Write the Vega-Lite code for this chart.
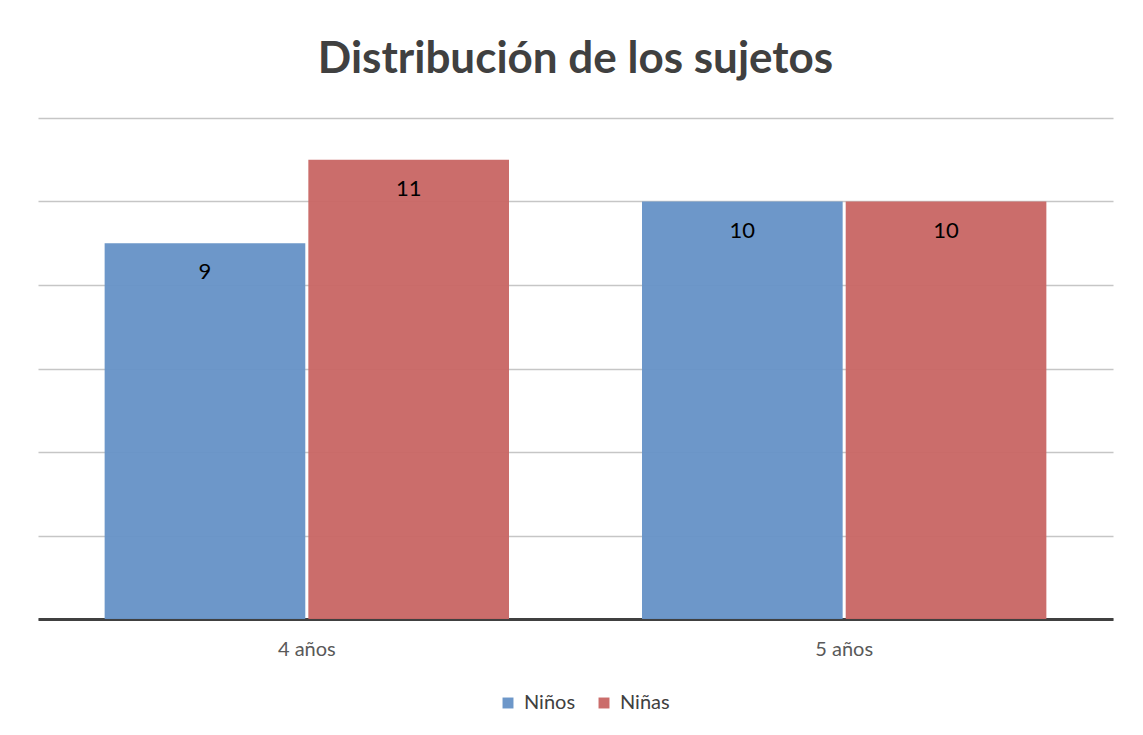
{
  "$schema": "https://vega.github.io/schema/vega-lite/v6.json",
  "autosize": {"type": "none"},
  "width": 1075,
  "height": 501,
  "padding": {"left": 38, "top": 118, "right": 30, "bottom": 116},
  "background": "white",
  "config": {
    "view": {"stroke": null},
    "font": "Lato"
  },
  "title": {
    "text": "Distribución de los sujetos",
    "fontSize": 44,
    "fontWeight": "bold",
    "color": "#404040",
    "font": "Lato",
    "anchor": "middle",
    "offset": 36
  },
  "data": {
    "values": [
      {"edad": "4 años", "sexo": "Niños", "n": 9},
      {"edad": "4 años", "sexo": "Niñas", "n": 11},
      {"edad": "5 años", "sexo": "Niños", "n": 10},
      {"edad": "5 años", "sexo": "Niñas", "n": 10}
    ]
  },
  "encoding": {
    "x": {
      "field": "edad",
      "type": "nominal",
      "scale": {"paddingInner": 0.2475, "paddingOuter": 0.124},
      "axis": {
        "title": null,
        "labelAngle": 0,
        "labelFontSize": 20,
        "labelColor": "#595959",
        "labelPadding": 20,
        "ticks": false,
        "domainColor": "#404040",
        "domainWidth": 3,
        "grid": false
      }
    },
    "xOffset": {
      "field": "sexo",
      "type": "nominal",
      "sort": ["Niños", "Niñas"],
      "scale": {"paddingInner": 0.015}
    },
    "y": {
      "field": "n",
      "type": "quantitative",
      "scale": {"domain": [0, 12]},
      "axis": {
        "title": null,
        "labels": false,
        "ticks": false,
        "domain": false,
        "values": [0, 2, 4, 6, 8, 10, 12],
        "gridColor": "#c6c6c6",
        "gridWidth": 1.5
      }
    }
  },
  "layer": [
    {
      "mark": {"type": "bar", "opacity": 0.97},
      "encoding": {
        "color": {
          "field": "sexo",
          "type": "nominal",
          "sort": ["Niños", "Niñas"],
          "scale": {"domain": ["Niños", "Niñas"], "range": ["#6894C7", "#C96866"]},
          "legend": {
            "title": null,
            "orient": "none",
            "direction": "horizontal",
            "legendX": 460,
            "legendY": 575,
            "symbolType": "square",
            "symbolSize": 120,
            "symbolStrokeWidth": 0,
            "labelFontSize": 20,
            "labelColor": "#404040",
            "columnPadding": 18,
            "labelOffset": 6
          }
        }
      }
    },
    {
      "mark": {"type": "text", "baseline": "middle", "dy": 29, "fontSize": 22, "color": "#000000"},
      "encoding": {
        "text": {"field": "n", "type": "quantitative"}
      }
    }
  ]
}
